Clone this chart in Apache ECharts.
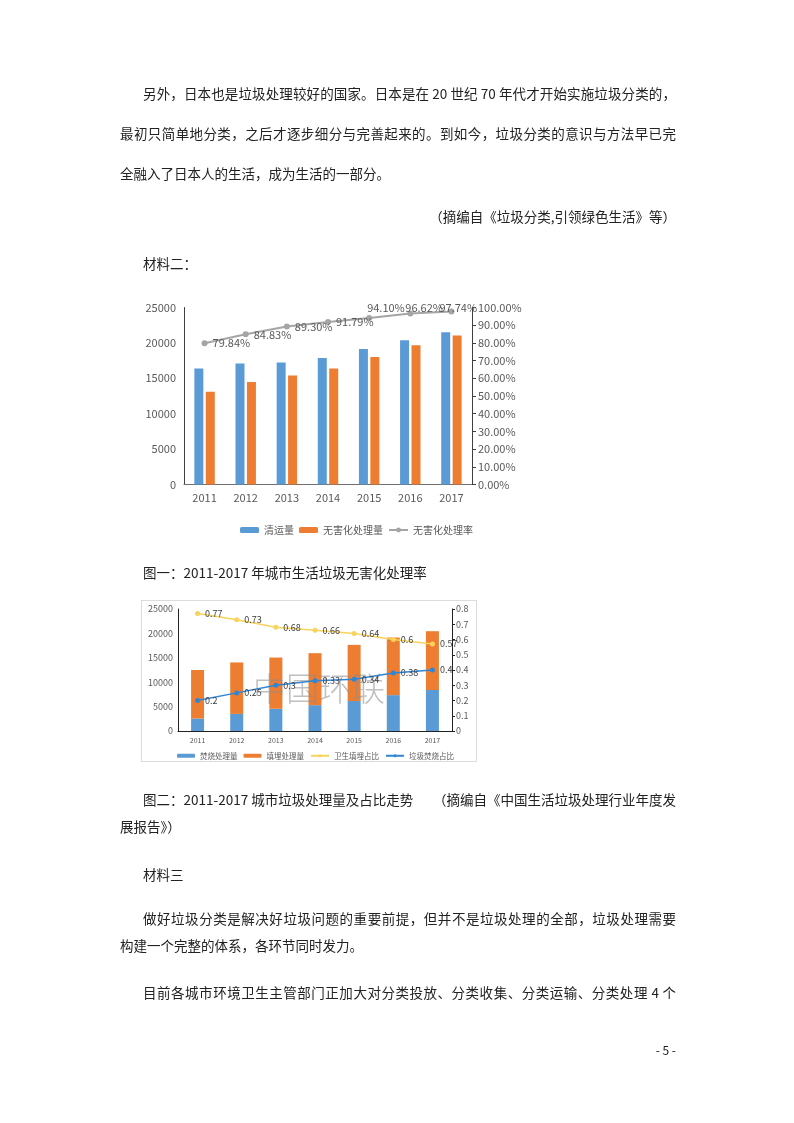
<!DOCTYPE html>
<html><head><meta charset="utf-8">
<script src="https://cdn.jsdelivr.net/npm/echarts@6/dist/echarts.min.js"></script>
<style>
html,body{margin:0;padding:0;background:#fff;}
#page{position:relative;width:794px;height:1123px;overflow:hidden;background:#fff;}
#chart{position:absolute;left:0;top:0;width:794px;height:1123px;z-index:2;}
#box2{position:absolute;left:141px;top:600px;width:334px;height:160px;border:1px solid #dcdcdc;z-index:1;}
.t{position:absolute;font-family:"Noto Sans CJK SC","Noto Sans",sans-serif;font-size:13.5px;line-height:20px;color:#222;white-space:nowrap;z-index:3;}
.j{text-align:justify;text-align-last:justify;}
.r{text-align:right;}
</style>
</head><body>
<div id="page">
<div class="t j" style="left:143px;top:83px;width:533px;">另外，日本也是垃圾处理较好的国家。日本是在 20 世纪 70 年代才开始实施垃圾分类的，</div>
<div class="t j" style="left:120px;top:123px;width:556px;">最初只简单地分类，之后才逐步细分与完善起来的。到如今，垃圾分类的意识与方法早已完</div>
<div class="t" style="left:120px;top:163px;">全融入了日本人的生活，成为生活的一部分。</div>
<div class="t r" style="left:300px;top:206px;width:376px;">（摘编自《垃圾分类,引领绿色生活》等）</div>
<div class="t" style="left:143px;top:253px;">材料二：</div>
<div class="t" style="left:143px;top:562px;">图一：2011-2017 年城市生活垃圾无害化处理率</div>
<div class="t" style="left:143px;top:789px;">图二：2011-2017 城市垃圾处理量及占比走势</div>
<div class="t r" style="left:400px;top:789px;width:276px;">（摘编自《中国生活垃圾处理行业年度发</div>
<div class="t" style="left:120px;top:816px;">展报告》）</div>
<div class="t" style="left:143px;top:864px;">材料三</div>
<div class="t j" style="left:143px;top:908px;width:533px;">做好垃圾分类是解决好垃圾问题的重要前提，但并不是垃圾处理的全部，垃圾处理需要</div>
<div class="t" style="left:120px;top:935px;">构建一个完整的体系，各环节同时发力。</div>
<div class="t j" style="left:143px;top:982px;width:533px;">目前各城市环境卫生主管部门正加大对分类投放、分类收集、分类运输、分类处理 4 个</div>
<div class="t r" style="left:600px;top:1040px;width:76px;font-size:12px;">- 5 -</div>
<div id="box2"></div>
<div id="chart"></div>
</div>
<script>
// ---- Chart 1 data ----
const years = ['2011','2012','2013','2014','2015','2016','2017'];
const collected = [16395, 17081, 17239, 17860, 19142, 20362, 21521];      // 清运量
const harmless = [13090, 14490, 15394, 16394, 18013, 19674, 21034];       // 无害化处理量
const harmlessRate = [79.84, 84.83, 89.30, 91.79, 94.10, 96.62, 97.74];   // 无害化处理率 (%)

// ---- Chart 2 data ----
const incineration = [2550, 3500, 4550, 5300, 6150, 7350, 8400];          // 焚烧处理量
const landfill = [9950, 10550, 10500, 10650, 11500, 11800, 12050];        // 填埋处理量
const landfillShare = [0.77, 0.73, 0.68, 0.66, 0.64, 0.6, 0.57];          // 卫生填埋占比
const incinerationShare = [0.2, 0.25, 0.3, 0.33, 0.34, 0.38, 0.4];        // 垃圾焚烧占比

const FONT = '"Noto Sans CJK SC","Noto Sans",sans-serif';
const AX = '#404040', LB = '#595959';

// label offsets for the crowded top labels of chart 1
const rateOffsets = [[0,0],[0,0],[0,0],[0,0],[-10,-10],[-13,-6],[-20,-4]];
const rateData = harmlessRate.map((v,i)=>({value:v, label:{offset:rateOffsets[i]}}));

const chart = echarts.init(document.getElementById('chart'), null, {renderer:'canvas'});
chart.setOption({
  animation:false,
  backgroundColor:'transparent',
  textStyle:{fontFamily:FONT},
  grid:[
    {left:184, top:307.5, width:288, height:177},
    {left:178, top:609, width:274, height:122}
  ],
  xAxis:[
    {type:'category', gridIndex:0, data:years,
     axisLine:{show:true, lineStyle:{color:'#6f6f6f', width:1}},
     axisTick:{show:false},
     axisLabel:{color:LB, fontSize:11, margin:8, fontFamily:FONT}},
    {type:'category', gridIndex:1, data:years,
     axisLine:{show:true, lineStyle:{color:'#222', width:1}},
     axisTick:{show:false},
     axisLabel:{color:LB, fontSize:7, margin:6, fontFamily:FONT}}
  ],
  yAxis:[
    {type:'value', gridIndex:0, min:0, max:25000, interval:5000,
     axisLine:{show:true, lineStyle:{color:AX}}, axisTick:{show:false},
     splitLine:{show:false},
     axisLabel:{color:LB, fontSize:11, margin:8, fontFamily:FONT, formatter:v=>String(v)}},
    {type:'value', gridIndex:0, position:'right', min:0, max:100, interval:10,
     axisLine:{show:true, lineStyle:{color:AX}}, axisTick:{show:true, length:4, lineStyle:{color:AX}},
     splitLine:{show:false},
     axisLabel:{color:LB, fontSize:11, margin:6, fontFamily:FONT, formatter:v=>v.toFixed(2)+'%'}},
    {type:'value', gridIndex:1, min:0, max:25000, interval:5000,
     axisLine:{show:true, lineStyle:{color:'#222'}}, axisTick:{show:false},
     splitLine:{show:false},
     axisLabel:{color:LB, fontSize:9, margin:5, fontFamily:FONT, formatter:v=>String(v)}},
    {type:'value', gridIndex:1, position:'right', min:0, max:0.8, interval:0.1,
     axisLine:{show:true, lineStyle:{color:'#222'}}, axisTick:{show:true, length:3, lineStyle:{color:'#222'}},
     splitLine:{show:false},
     axisLabel:{color:LB, fontSize:9, margin:4, fontFamily:FONT, formatter:v=>String(+v.toFixed(1))}}
  ],
  legend:[
    {left:235, top:520, itemWidth:19, itemHeight:6, itemGap:5,
     textStyle:{color:LB, fontSize:10, fontFamily:FONT},
     data:['清运量','无害化处理量','无害化处理率']},
    {left:172, top:747, itemWidth:18, itemHeight:4, itemGap:6,
     textStyle:{color:LB, fontSize:7.5, fontFamily:FONT},
     data:['焚烧处理量','填埋处理量','卫生填埋占比','垃圾焚烧占比']}
  ],
  graphic:[
    {type:'text', left:253, top:672, z:3, silent:true,
     style:{text:'中国环联', fill:'rgba(140,140,140,0.55)', font:'300 33px '+FONT}}
  ],
  series:[
    {name:'清运量', type:'bar', xAxisIndex:0, yAxisIndex:0, data:collected,
     barWidth:9, barGap:'27%', itemStyle:{color:'#5B9BD5'}},
    {name:'无害化处理量', type:'bar', xAxisIndex:0, yAxisIndex:0, data:harmless,
     barWidth:9, barGap:'27%', itemStyle:{color:'#ED7D31'}},
    {name:'无害化处理率', type:'line', xAxisIndex:0, yAxisIndex:1, data:rateData, z:5,
     symbol:'circle', symbolSize:6, lineStyle:{color:'#A5A5A5', width:2},
     itemStyle:{color:'#A5A5A5'},
     label:{show:true, position:'right', distance:5, color:LB, fontSize:11, fontFamily:FONT,
            formatter:p=>p.value.toFixed(2)+'%'}},
    {name:'焚烧处理量', type:'bar', xAxisIndex:1, yAxisIndex:2, data:incineration, stack:'t',
     barWidth:13, itemStyle:{color:'#5B9BD5'}},
    {name:'填埋处理量', type:'bar', xAxisIndex:1, yAxisIndex:2, data:landfill, stack:'t',
     barWidth:13, itemStyle:{color:'#ED7D31'}},
    {name:'卫生填埋占比', type:'line', xAxisIndex:1, yAxisIndex:3, data:landfillShare, z:5,
     symbol:'circle', symbolSize:5, lineStyle:{color:'#F8D35E', width:1.5},
     itemStyle:{color:'#F8D35E'},
     label:{show:true, position:'right', distance:5, color:'#404040', fontSize:9, fontFamily:FONT}},
    {name:'垃圾焚烧占比', type:'line', xAxisIndex:1, yAxisIndex:3, data:incinerationShare, z:5,
     symbol:'circle', symbolSize:5, lineStyle:{color:'#2E86D5', width:1.5},
     itemStyle:{color:'#2E86D5'},
     label:{show:true, position:'right', distance:5, color:'#404040', fontSize:9, fontFamily:FONT}}
  ]
});
</script>
</body></html>
